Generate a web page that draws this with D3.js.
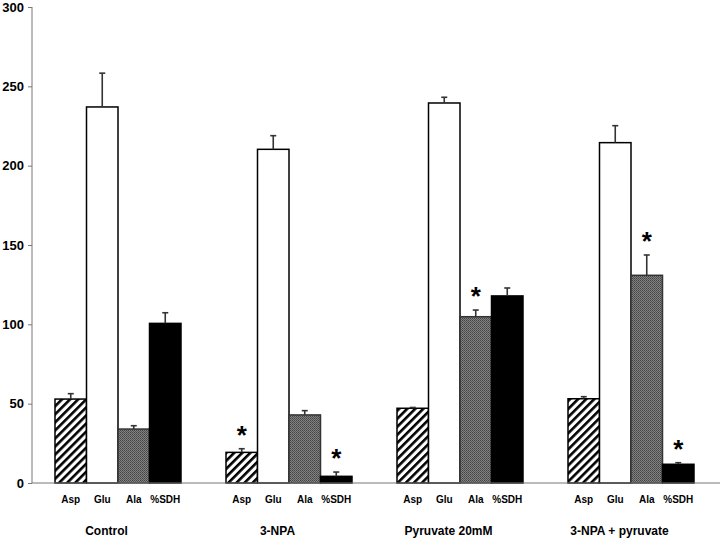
<!DOCTYPE html>
<html>
<head>
<meta charset="utf-8">
<script src="https://cdn.jsdelivr.net/npm/d3@7"></script>
<style>
  html, body { margin: 0; padding: 0; background: #fff; }
  svg { display: block; font-family: "Liberation Sans", Arial, sans-serif; }
</style>
</head>
<body>
<svg id="chart" width="720" height="540"></svg>
<script>
// ---- data ----
const groups = ["Control", "3-NPA", "Pyruvate 20mM", "3-NPA + pyruvate"];
const series = ["Asp", "Glu", "Ala", "%SDH"];
const aspValues = [52.9, 19.3, 47.1, 53.1];
const gluValues = [237.0, 210.3, 239.5, 214.5];
const alaValues = [34.0, 42.9, 104.8, 130.9];
const sdhValues = [100.6, 4.2, 117.9, 11.8];
const aspErrors = [3.4, 2.3, 0.5, 1.3];
const gluErrors = [21.3, 8.6, 3.6, 10.7];
const alaErrors = [2.1, 2.7, 4.2, 12.8];
const sdhErrors = [6.7, 2.7, 5.0, 1.0];
const aspStars = [false, true, false, false];
const gluStars = [false, false, false, false];
const alaStars = [false, false, true, true];
const sdhStars = [false, true, false, true];
const yTicks = [0, 50, 100, 150, 200, 250, 300];

const valuesBySeries = [aspValues, gluValues, alaValues, sdhValues];
const errorsBySeries = [aspErrors, gluErrors, alaErrors, sdhErrors];
const starsBySeries = [aspStars, gluStars, alaStars, sdhStars];

const rows = [];
groups.forEach((g, gi) => {
  series.forEach((s, si) => {
    rows.push({ group: g, series: s, value: valuesBySeries[si][gi],
      err: errorsBySeries[si][gi], star: starsBySeries[si][gi] });
  });
});

// ---- layout ----
const svg = d3.select("#chart");
const mLeft = 32, mTop = 7, mBottom = 483, mRight = 716;

const x0 = d3.scaleBand().domain(groups).range([mLeft, mRight]).padding(0);
const x1 = d3.scaleBand().domain(series)
  .range([x0.bandwidth() * 23 / 171, x0.bandwidth() * 149 / 171]).padding(0);
const y = d3.scaleLinear().domain([0, 300]).range([mBottom, mTop]);

// patterns
const defs = svg.append("defs");
const hatch = defs.append("pattern").attr("id", "hatch")
  .attr("patternUnits", "userSpaceOnUse").attr("width", 5.7).attr("height", 5.7)
  .attr("patternTransform", "rotate(45)");
hatch.append("rect").attr("width", 5.7).attr("height", 5.7).attr("fill", "#fff");
hatch.append("rect").attr("x", 0).attr("y", 0).attr("width", 2.6).attr("height", 5.7).attr("fill", "#000");

const dots = defs.append("pattern").attr("id", "dots")
  .attr("patternUnits", "userSpaceOnUse").attr("width", 2).attr("height", 2);
dots.append("rect").attr("width", 2).attr("height", 2).attr("fill", "#828282");
dots.append("rect").attr("width", 1).attr("height", 1).attr("fill", "#444");
dots.append("rect").attr("x", 1).attr("y", 1).attr("width", 1).attr("height", 1).attr("fill", "#555");

const fills = { "Asp": "url(#hatch)", "Glu": "#fff", "Ala": "url(#dots)", "%SDH": "#000" };
const strokes = { "Asp": "#000", "Glu": "#000", "Ala": "#333", "%SDH": "#000" };

// y axis
const yAxis = d3.axisLeft(y).tickValues(yTicks).tickSize(4).tickPadding(4);
const yg = svg.append("g").attr("transform", `translate(${mLeft},0)`).call(yAxis);
yg.select(".domain").attr("stroke", "#777").attr("d", `M0,${mTop}V${mBottom}`);
yg.selectAll(".tick line").attr("stroke", "#777");
yg.selectAll(".tick text").attr("font-size", 13).attr("font-weight", "bold")
  .attr("fill", "#000").attr("font-family", '"Liberation Sans", Arial, sans-serif');

// bars
const bars = svg.append("g");
bars.selectAll("rect").data(rows).join("rect")
  .attr("x", d => x0(d.group) + x1(d.series))
  .attr("y", d => y(d.value))
  .attr("width", x1.bandwidth())
  .attr("height", d => y(0) - y(d.value))
  .attr("fill", d => fills[d.series])
  .attr("stroke", d => strokes[d.series])
  .attr("stroke-width", 1.5);

// error bars
const eb = svg.append("g").attr("stroke", "#333").attr("stroke-width", 1.6);
rows.forEach(d => {
  const cx = x0(d.group) + x1(d.series) + x1.bandwidth() / 2;
  eb.append("line").attr("x1", cx).attr("x2", cx).attr("y1", y(d.value)).attr("y2", y(d.value + d.err));
  eb.append("line").attr("x1", cx - 3).attr("x2", cx + 3).attr("y1", y(d.value + d.err)).attr("y2", y(d.value + d.err));
});

// stars
svg.append("g").selectAll("text").data(rows.filter(d => d.star)).join("text")
  .attr("x", d => x0(d.group) + x1(d.series) + x1.bandwidth() / 2)
  .attr("y", d => y(d.value + d.err) - 19 + 14)
  .attr("text-anchor", "middle")
  .attr("font-size", 26).attr("font-weight", "bold")
  .text("*");

// x axis line
svg.append("line").attr("x1", mLeft).attr("x2", 720).attr("y1", y(0)).attr("y2", y(0))
  .attr("stroke", "#777").attr("stroke-width", 1);

// category labels
svg.append("g").selectAll("text").data(rows).join("text")
  .attr("x", d => x0(d.group) + x1(d.series) + x1.bandwidth() / 2)
  .attr("y", 503)
  .attr("text-anchor", "middle")
  .attr("font-size", 10).attr("font-weight", "bold")
  .text(d => d.series);

// group labels
svg.append("g").selectAll("text").data(groups).join("text")
  .attr("x", d => x0(d) + x0.bandwidth() / 2 - 11)
  .attr("y", 535)
  .attr("text-anchor", "middle")
  .attr("font-size", 12).attr("font-weight", "bold")
  .text(d => d);
</script>
</body>
</html>
